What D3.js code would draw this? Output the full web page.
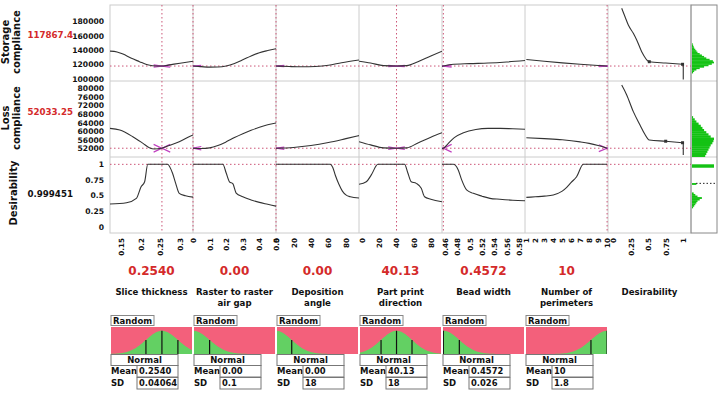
<!DOCTYPE html>
<html>
<head>
<meta charset="utf-8">
<script src="https://cdn.jsdelivr.net/npm/d3@7"></script>
<style>
  body { margin: 0; background: #fff; }
  text { font-family: "DejaVu Sans", Verdana, sans-serif; font-weight: bold; fill: #111; }
</style>
</head>
<body>
<div id="chart"></div>
<script>
// factors (columns)
const factorLines = [["Slice thickness"], ["Raster to raster", "air gap"], ["Deposition", "angle"],
  ["Part print", "direction"], ["Bead width"], ["Number of", "perimeters"]];
const currentX = [0.254, 0, 0, 40.13, 0.4572, 10];
const currentXLabels = ["0.2540", "0.00", "0.00", "40.13", "0.4572", "10"];
const xDomains = [[0.122, 0.333], [0, 0.5], [0, 95], [-3.5, 93], [0.455, 0.59], [0.85, 10.1]];
const xTicks = [[0.15, 0.2, 0.25, 0.3], [0, 0.1, 0.2, 0.3, 0.4, 0.5], [0, 20, 40, 60, 80], [0, 20, 40, 60, 80],
  [0.46, 0.48, 0.5, 0.52, 0.54, 0.56, 0.58], [1, 2, 3, 4, 5, 6, 7, 8, 9, 10]];
const desirDomain = [-0.07, 1.11];
const desirTicks = [0, 0.25, 0.5, 0.75, 1];

// responses (rows)
const responseLines = [["Storage", "compliance"], ["Loss", "compliance"], ["Desirability"]];
const currentY = [117867.4, 52033.25, 0.999451];
const currentYLabels = ["117867.4", "52033.25", "0.999451"];
const yDomains = [[97000, 203000], [47940, 83400], [-0.1, 1.117]];
const yTicks = [[100000, 120000, 140000, 160000, 180000],
  [52000, 56000, 60000, 64000, 68000, 72000, 76000, 80000], [0, 0.25, 0.5, 0.75, 1]];

// profile traces [factor value, response]
const storageProfiles = [
  [[0.122, 138600], [0.14, 137500], [0.155, 134500], [0.175, 129000], [0.197, 124000], [0.215, 120000], [0.23, 118300], [0.254, 117867], [0.27, 119200], [0.3, 121800], [0.333, 124500]],
  [[0, 117867], [0.05, 117000], [0.1, 116300], [0.15, 116500], [0.2, 118000], [0.25, 121500], [0.3, 126500], [0.35, 132000], [0.4, 136500], [0.45, 139500], [0.5, 142000]],
  [[0, 117867], [15, 117200], [30, 116800], [45, 117300], [60, 119000], [75, 122500], [95, 126300]],
  [[-3.5, 124600], [10, 122000], [25, 118500], [40.13, 117867], [52, 118500], [65, 124000], [80, 132000], [93, 138600]],
  [[0.455, 117600], [0.4572, 117867], [0.47, 120000], [0.5, 121200], [0.53, 122000], [0.56, 123500], [0.59, 125500]],
  [[1, 127000], [3, 124500], [5, 122300], [7, 120300], [9, 118600], [10, 117867]]
];
const lossProfiles = [
  [[0.122, 61300], [0.147, 60500], [0.18, 57400], [0.206, 54300], [0.222, 52300], [0.235, 51700], [0.254, 52033], [0.264, 52700], [0.298, 55000], [0.323, 57400], [0.333, 58200]],
  [[0, 52033], [0.05, 51900], [0.1, 52200], [0.15, 53300], [0.2, 55000], [0.25, 57000], [0.3, 58800], [0.35, 60400], [0.4, 61800], [0.45, 63000], [0.5, 63800]],
  [[0, 52033], [20, 52400], [40, 53300], [60, 54700], [80, 56500], [95, 57900]],
  [[-3.5, 55100], [10, 53600], [25, 52200], [40.13, 52033], [52, 52200], [65, 54500], [80, 57200], [93, 59300]],
  [[0.455, 51800], [0.4572, 52033], [0.465, 54200], [0.475, 57000], [0.49, 59300], [0.51, 60800], [0.53, 61300], [0.55, 61300], [0.57, 61100], [0.59, 60900]],
  [[1, 56900], [3, 56500], [5, 56000], [7, 55000], [8, 54300], [9, 53300], [10, 52033]]
];
const desirProfiles = [
  [[0.122, 0.364], [0.164, 0.385], [0.189, 0.455], [0.201, 0.64], [0.21, 0.72], [0.218, 1], [0.268, 1], [0.281, 0.856], [0.289, 0.695], [0.298, 0.535], [0.314, 0.497], [0.333, 0.475]],
  [[0, 1], [0.18, 1], [0.2, 0.86], [0.22, 0.72], [0.24, 0.69], [0.26, 0.54], [0.3, 0.48], [0.35, 0.43], [0.4, 0.39], [0.45, 0.36], [0.5, 0.33]],
  [[0, 1], [62, 1], [65, 0.95], [68, 0.82], [72, 0.68], [76, 0.57], [80, 0.51], [85, 0.48], [95, 0.46]],
  [[-3.5, 0.68], [5, 0.72], [10.8, 0.83], [18.5, 1], [49.5, 1], [53.3, 0.86], [57.3, 0.72], [63, 0.695], [68.9, 0.615], [72.7, 0.48], [80, 0.44], [93, 0.4]],
  [[0.455, 1], [0.4733, 1], [0.4814, 0.91], [0.487, 0.75], [0.495, 0.59], [0.506, 0.535], [0.52, 0.49], [0.533, 0.455], [0.549, 0.44], [0.57, 0.425], [0.59, 0.417]],
  [[1, 0.47], [2, 0.48], [3, 0.49], [4, 0.51], [5, 0.57], [5.5, 0.63], [6, 0.71], [6.6, 0.8], [7.35, 1], [10, 1]]
];
// confidence half widths near the current setting
const ciHalf = [[1500, 1000, 800, 800, 1500, 900], [1800, 800, 500, 600, 1800, 1600]];

// desirability functions [desirability, response]
const storageDesir = [[0.125, 198400], [0.172, 186700], [0.219, 175100], [0.29, 163500], [0.338, 154200], [0.409, 137900], [0.517, 123900], [0.75, 122000], [0.99, 120300]];
const lossDesir = [[0.125, 81500], [0.196, 76900], [0.29, 69100], [0.385, 62900], [0.45, 58800], [0.517, 55900], [0.75, 55300], [0.99, 54600]];
const storageDesirEnd = [[0.99, 120300], [1.0, 120000], [1.0, 99000]];
const lossDesirEnd = [[0.99, 54600], [1.0, 54400], [1.0, 48900]];

// simulated distributions [bin start, count]
const storageBinW = 2000;
const storageHist = [[108000, 1], [110000, 2], [112000, 4], [114000, 7], [116000, 11], [118000, 15], [120000, 18], [122000, 20], [124000, 19], [126000, 16], [128000, 13], [130000, 11], [132000, 9], [134000, 7], [136000, 5], [138000, 4], [140000, 3], [142000, 2], [144000, 1.5], [146000, 1], [148000, 0.5]];
const lossBinW = 1000;
const lossHist = [[48000, 12], [49000, 13], [50000, 14], [51000, 15], [52000, 16], [53000, 17], [54000, 18.5], [55000, 19.5], [56000, 20], [57000, 17], [58000, 15], [59000, 13], [60000, 11], [61000, 9.5], [62000, 8], [63000, 6], [64000, 4], [65000, 2.5], [66000, 1]];
const desirBinW = 0.025;
const desirHist = [[0.3, 1], [0.325, 2], [0.35, 3], [0.375, 4], [0.4, 5], [0.425, 7], [0.45, 9], [0.475, 5], [0.5, 3], [0.525, 1.5], [0.675, 4], [0.95, 20], [0.975, 20]];
const desirMean = 0.695;

// random factor distributions
const distMean = [0.254, 0, 0, 40.13, 0.4572, 10];
const distSD = [0.04064, 0.1, 18, 18, 0.026, 1.8];
const distMeanLabels = ["0.2540", "0.00", "0.00", "40.13", "0.4572", "10"];
const distSDLabels = ["0.04064", "0.1", "18", "18", "0.026", "1.8"];

const width = 721, height = 396;
const plotLeft = 110, plotTop = 5, colW = 83, rowH = 76;
const histX = plotLeft + 7 * colW, histW = 26;
const plotBottom = plotTop + 3 * rowH;
const refColor = "#cc5577";

const svg = d3.select("#chart").append("svg")
  .attr("width", width).attr("height", height);

const xScales = xDomains.map((d, i) => d3.scaleLinear().domain(d).range([plotLeft + i * colW, plotLeft + (i + 1) * colW]));
const xDesir = d3.scaleLinear().domain(desirDomain).range([plotLeft + 6 * colW, plotLeft + 7 * colW]);
const yScales = yDomains.map((d, r) => d3.scaleLinear().domain(d).range([plotTop + (r + 1) * rowH, plotTop + r * rowH]));

// clip per cell
const defs = svg.append("defs");
for (let r = 0; r < 3; r++) {
  for (let c = 0; c < 8; c++) {
    defs.append("clipPath").attr("id", `clip-${r}-${c}`)
      .append("rect")
      .attr("x", c < 7 ? plotLeft + c * colW : histX)
      .attr("y", plotTop + r * rowH)
      .attr("width", c < 7 ? colW : histW)
      .attr("height", rowH);
  }
}

// grid frame
svg.append("rect").attr("x", plotLeft).attr("y", plotTop).attr("width", 7 * colW).attr("height", 3 * rowH)
  .attr("fill", "none").attr("stroke", "#ccc");
for (let c = 1; c < 7; c++) {
  svg.append("line").attr("x1", plotLeft + c * colW).attr("x2", plotLeft + c * colW)
    .attr("y1", plotTop).attr("y2", plotBottom).attr("stroke", "#ccc");
}
for (let r = 1; r < 3; r++) {
  svg.append("line").attr("x1", plotLeft).attr("x2", histX + histW)
    .attr("y1", plotTop + r * rowH).attr("y2", plotTop + r * rowH).attr("stroke", "#ccc");
}
svg.append("rect").attr("x", histX).attr("y", plotTop).attr("width", histW).attr("height", 3 * rowH)
  .attr("fill", "none").attr("stroke", "#888");

// reference lines (current settings)
yScales.forEach((y, r) => {
  svg.append("line")
    .attr("x1", plotLeft).attr("x2", histX)
    .attr("y1", y(currentY[r])).attr("y2", y(currentY[r]))
    .attr("stroke", refColor).attr("stroke-width", 1).attr("stroke-dasharray", "1.5,2.5");
});
xScales.forEach((x, c) => {
  svg.append("line")
    .attr("x1", x(currentX[c])).attr("x2", x(currentX[c]))
    .attr("y1", plotTop).attr("y2", plotBottom)
    .attr("stroke", refColor).attr("stroke-width", 1).attr("stroke-dasharray", "1.5,2.5");
});

// profile curves
const allProfiles = [storageProfiles, lossProfiles, desirProfiles];
allProfiles.forEach((profiles, r) => {
  profiles.forEach((pts, c) => {
    const line = d3.line().curve(d3.curveMonotoneX)
      .x(d => xScales[c](d[0])).y(d => yScales[r](d[1]));
    const g = svg.append("g").attr("clip-path", `url(#clip-${r}-${c})`);
    // confidence bowtie near the current setting
    if (r < 2) {
      const x0 = currentX[c];
      const span = (xDomains[c][1] - xDomains[c][0]) * 0.1;
      const band = [x0 - span, x0, x0 + span];
      const y0 = currentY[r];
      const up = band.map(v => [v, y0 + ciHalf[r][c] * Math.abs(v - x0) / span]);
      const dn = band.map(v => [v, y0 - ciHalf[r][c] * Math.abs(v - x0) / span]);
      [up, dn].forEach(p => {
        g.append("path").attr("d", d3.line().x(d => xScales[c](d[0])).y(d => yScales[r](d[1]))(p))
          .attr("fill", "none").attr("stroke", "#c040c0").attr("stroke-width", 1.2);
      });
    }
    g.append("path").attr("d", line(pts))
      .attr("fill", "none").attr("stroke", "#333").attr("stroke-width", 1.1);
  });
});

// desirability function column
[[storageDesir, storageDesirEnd], [lossDesir, lossDesirEnd]].forEach(([pts, end], r) => {
  const g = svg.append("g").attr("clip-path", `url(#clip-${r}-6)`);
  g.append("path")
    .attr("d", d3.line().curve(d3.curveMonotoneX).x(d => xDesir(d[0])).y(d => yScales[r](d[1]))(pts))
    .attr("fill", "none").attr("stroke", "#333").attr("stroke-width", 1.1);
  g.append("path")
    .attr("d", d3.line().x(d => xDesir(d[0])).y(d => yScales[r](d[1]))(end))
    .attr("fill", "none").attr("stroke", "#333").attr("stroke-width", 1.1);
  const knots = [pts[6], pts[pts.length - 1]];
  g.selectAll("rect.knot").data(knots).join("rect")
    .attr("class", "knot")
    .attr("x", d => xDesir(d[0]) - 1.5).attr("y", d => yScales[r](d[1]) - 1.5)
    .attr("width", 3).attr("height", 3).attr("fill", "#333");
});

// histograms
const histCount = d3.scaleLinear().domain([0, 20]).range([histX + 1, histX + 23]);
[[storageHist, storageBinW], [lossHist, lossBinW], [desirHist, desirBinW]].forEach(([bins, bw], r) => {
  const g = svg.append("g").attr("clip-path", `url(#clip-${r}-7)`);
  g.selectAll("rect").data(bins).join("rect")
    .attr("x", histCount(0))
    .attr("y", d => yScales[r](d[0] + bw))
    .attr("width", d => histCount(d[1]) - histCount(0))
    .attr("height", d => Math.abs(yScales[r](d[0]) - yScales[r](d[0] + bw)) + 0.3)
    .attr("fill", "#14c214");
});
svg.append("line")
  .attr("x1", histX + 5).attr("x2", histX + histW)
  .attr("y1", yScales[2](desirMean)).attr("y2", yScales[2](desirMean))
  .attr("stroke", "#222").attr("stroke-dasharray", "1.5,2");

// y axes
yScales.forEach((y, r) => {
  const ax = svg.append("g")
    .attr("transform", `translate(${plotLeft},0)`)
    .call(d3.axisLeft(y).tickValues(yTicks[r]).tickSize(0).tickPadding(6).tickFormat(d => d));
  ax.select(".domain").remove();
  ax.selectAll("text").style("font-size", "7.6px").style("font-family", "DejaVu Sans").style("font-weight", "bold");
});

// x axes with rotated labels
function xAxis(scale, ticks) {
  const ax = svg.append("g")
    .attr("transform", `translate(0,${plotBottom})`)
    .call(d3.axisBottom(scale).tickValues(ticks).tickSize(0).tickFormat(d => String(d)));
  ax.select(".domain").remove();
  ax.selectAll("text")
    .attr("y", 0).attr("x", -5).attr("dy", "0.35em")
    .attr("transform", "rotate(-90)")
    .style("text-anchor", "end")
    .style("font-size", "7.2px").style("font-family", "DejaVu Sans").style("font-weight", "bold");
}
xScales.forEach((x, c) => xAxis(x, xTicks[c]));
xAxis(xDesir, desirTicks);

// response titles and current values
const titleY = [42, 118, 193];
responseLines.forEach((lines, r) => {
  const t = svg.append("text")
    .attr("transform", `translate(${lines.length > 1 ? 9 : 17},${titleY[r]}) rotate(-90)`)
    .attr("text-anchor", "middle")
    .style("font-size", "10px");
  lines.forEach((s, i) => t.append("tspan").attr("x", 0).attr("dy", i === 0 ? 0 : 10.5).text(s));
  svg.append("text")
    .attr("x", 73).attr("y", [35, 112, 194][r]).attr("dy", "0.35em")
    .attr("text-anchor", "end")
    .style("font-size", "8.7px")
    .style("fill", r < 2 ? "#d42a2a" : "#111")
    .text(currentYLabels[r]);
});

// factor current values and names
xScales.forEach((x, c) => {
  const cx = plotLeft + c * colW + colW / 2;
  svg.append("text").attr("x", cx).attr("y", 275).attr("text-anchor", "middle")
    .style("font-size", "12px").style("fill", "#d42a2a").text(currentXLabels[c]);
  const t = svg.append("text").attr("x", cx).attr("y", 295).attr("text-anchor", "middle").style("font-size", "8.6px");
  factorLines[c].forEach((s, i) => t.append("tspan").attr("x", cx).attr("dy", i === 0 ? 0 : 10.5).text(s));
});
svg.append("text").attr("x", plotLeft + 6 * colW + colW / 2).attr("y", 295).attr("text-anchor", "middle")
  .style("font-size", "8.6px").text("Desirability");

// random factor distribution panels
const distTop = 327, distH = 27;
xScales.forEach((x, c) => {
  const x0 = plotLeft + c * colW;
  const g = svg.append("g");

  g.append("rect").attr("x", x0 + 1).attr("y", 315.5).attr("width", 43).attr("height", 10)
    .attr("fill", "#fff").attr("stroke", "#888");
  g.append("text").attr("x", x0 + 3).attr("y", 323.5).style("font-size", "8.5px").text("Random");

  defs.append("clipPath").attr("id", `dclip-${c}`).append("rect")
    .attr("x", x0 + 1).attr("y", distTop).attr("width", colW - 2).attr("height", distH);
  const pg = g.append("g").attr("clip-path", `url(#dclip-${c})`);
  pg.append("rect").attr("x", x0 + 1).attr("y", distTop).attr("width", colW - 2).attr("height", distH)
    .attr("fill", "#f3607b");
  const m = distMean[c], s = distSD[c];
  const dens = v => Math.exp(-0.5 * ((v - m) / s) ** 2);
  const yd = v => distTop + distH - 0.86 * distH * dens(v);
  const xs = d3.range(0, 101).map(i => xDomains[c][0] + (xDomains[c][1] - xDomains[c][0]) * i / 100);
  pg.append("path")
    .attr("d", d3.area().x(v => x(v)).y0(distTop + distH).y1(v => yd(v))(xs))
    .attr("fill", "#63d063");
  [m - s, m, m + s].forEach(v => {
    pg.append("line").attr("x1", x(v)).attr("x2", x(v))
      .attr("y1", distTop + distH).attr("y2", yd(v))
      .attr("stroke", "#111").attr("stroke-width", 1.2);
  });

  g.append("rect").attr("x", x0 + 1).attr("y", 354.5).attr("width", 67).attr("height", 11)
    .attr("fill", "#fff").attr("stroke", "#777");
  g.append("text").attr("x", x0 + 34.5).attr("y", 363.3).attr("text-anchor", "middle")
    .style("font-size", "8.5px").text("Normal");

  [["Mean", distMeanLabels[c], 365.5], ["SD", distSDLabels[c], 377.5]].forEach(([lab, val, yy]) => {
    g.append("text").attr("x", x0 + 1).attr("y", yy + 8.7).style("font-size", "8.5px").text(lab);
    g.append("rect").attr("x", x0 + 27).attr("y", yy).attr("width", 41).attr("height", 11.5)
      .attr("fill", "#fff").attr("stroke", "#777");
    g.append("text").attr("x", x0 + 29).attr("y", yy + 8.9).style("font-size", "8.4px").text(val);
  });
});
</script>
</body>
</html>
